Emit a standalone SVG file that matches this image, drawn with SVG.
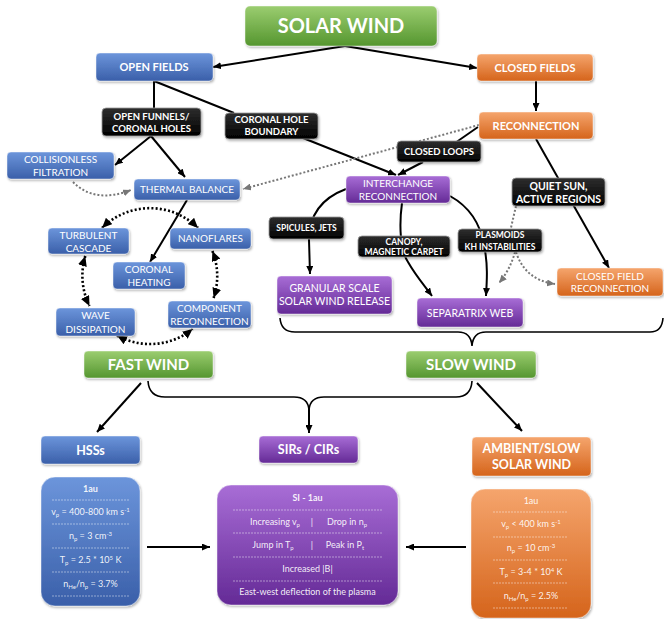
<svg xmlns="http://www.w3.org/2000/svg" width="664" height="619" viewBox="0 0 664 619">
<defs>
<linearGradient id="gGreen" x1="0" y1="0" x2="0" y2="1"><stop offset="0" stop-color="#9bcd70"/><stop offset="1" stop-color="#55962f"/></linearGradient>
<linearGradient id="gBlue" x1="0" y1="0" x2="0" y2="1"><stop offset="0" stop-color="#6c95db"/><stop offset="1" stop-color="#3a5fa9"/></linearGradient>
<linearGradient id="gOrange" x1="0" y1="0" x2="0" y2="1"><stop offset="0" stop-color="#f5a56d"/><stop offset="1" stop-color="#d5641b"/></linearGradient>
<linearGradient id="gPurple" x1="0" y1="0" x2="0" y2="1"><stop offset="0" stop-color="#a86dd6"/><stop offset="1" stop-color="#642a96"/></linearGradient>
<linearGradient id="gBlack" x1="0" y1="0" x2="0" y2="1"><stop offset="0" stop-color="#2e2e2e"/><stop offset="1" stop-color="#000"/></linearGradient>
<filter id="sh" x="-10%" y="-10%" width="130%" height="140%"><feDropShadow dx="1" dy="1.5" stdDeviation="1" flood-color="#000" flood-opacity="0.3"/></filter>
<marker id="ah" markerUnits="userSpaceOnUse" viewBox="0 0 8 7" refX="8" refY="3.5" markerWidth="8" markerHeight="7" orient="auto"><path d="M0,0 L8,3.5 L0,7 z" fill="#000"/></marker>
<marker id="ahg" markerUnits="userSpaceOnUse" viewBox="0 0 8 7" refX="8" refY="3.5" markerWidth="8" markerHeight="7" orient="auto"><path d="M0,0 L8,3.5 L0,7 z" fill="#777"/></marker>
<marker id="ahb" markerUnits="userSpaceOnUse" viewBox="0 0 10 9" refX="10" refY="4.5" markerWidth="10" markerHeight="9" orient="auto-start-reverse"><path d="M0,0 L10,4.5 L0,9 z" fill="#000"/></marker>
<style>
text{font-family:Lato,"Liberation Sans",sans-serif;fill:#fff;text-anchor:middle}
.b{font-weight:bold}
.n{stroke:rgba(255,255,255,0.55);stroke-width:0.8;filter:url(#sh)}
.blk{fill:url(#gBlack);stroke:#9a9a9a;stroke-width:0.8;filter:url(#sh)}
.green{fill:url(#gGreen)}.blue{fill:url(#gBlue)}.orange{fill:url(#gOrange)}.purple{fill:url(#gPurple)}
.c{fill:none;stroke:#000;stroke-width:2}
.cm{fill:none;stroke:#000;stroke-width:2;marker-end:url(#ah)}
.br{fill:none;stroke:#000;stroke-width:1.6}
.gd{fill:none;stroke:#777;stroke-width:2;stroke-dasharray:2 2;marker-end:url(#ahg)}
.gd0{fill:none;stroke:#777;stroke-width:2;stroke-dasharray:2 2}
.kd{fill:none;stroke:#000;stroke-width:2.6;stroke-dasharray:2 2.2;marker-start:url(#ahb);marker-end:url(#ahb)}
.t20{font-size:20px}.t15{font-size:15px}.t12{font-size:12.5px}.t11{font-size:11px}.t10{font-size:10px}.t95{font-size:9.5px}.t85{font-size:8.5px}.t105{font-size:10.5px}
.d{font-size:9px;fill:rgba(255,255,255,0.92)}
.dl{stroke:rgba(255,255,255,0.75);stroke-width:0.6;stroke-dasharray:2 1}
.s{font-size:6px}
</style>
</defs>
<rect width="664" height="619" fill="#fff"/>

<g id="connectors">
<path class="cm" d="M345,46 L213,67"/>
<path class="cm" d="M345,46 L477,68"/>
<path class="cm" d="M536,81 L536,111"/>
<path class="c" d="M154,81 L154,108"/>
<path class="c" d="M154,81 L234,113"/>
<path class="cm" d="M303,138 L396,175"/>
<path class="cm" d="M151,136 L115,165"/>
<path class="cm" d="M151,136 L185,177"/>
<path class="c" d="M478,127 L455,143"/>
<path class="cm" d="M423,162 L398,175"/>
<path class="cm" d="M536,139 L609,268"/>
<path class="cm" d="M187,200 L150,262"/>
<path class="cm" d="M346,189 C322,198 309,215 309,240 L310,274"/>
<path class="cm" d="M402,203 C399,225 400,250 408,262 C416,276 424,285 432,296"/>
<path class="cm" d="M450,196 C468,206 480,222 484,245 C488,264 487,280 486,296"/>
<path class="gd" d="M479,125 L243,189"/>
<path class="gd" d="M73,182 Q95,204 131,190"/>
<path class="gd0" d="M516,206 L510,232"/>
<path class="gd" d="M515,252 Q510,270 499,283"/>
<path class="gd" d="M516,252 Q525,280 555,284"/>
<path class="kd" d="M102,228 A68,68 0 0 1 198,228"/>
<path class="kd" d="M212.4,251 A68,68 0 0 1 213.6,298"/>
<path class="kd" d="M85.3,256 A68,68 0 0 0 89.5,306"/>
<path class="kd" d="M117,335.5 A68,68 0 0 0 192.6,329"/>
<path class="br" d="M280,318 Q281,332 295,332 L458,332 Q471,332 472,346 Q473,332 486,332 L650,332 Q662,332 663,318"/>
<path class="br" d="M148,381 Q149,397 165,397 L294,397 Q308,397 309,410 Q310,397 324,397 L456,397 Q471,397 472,381"/>
<path class="cm" d="M309,409 L309,433"/>
<path class="cm" d="M141,383 L97,432"/>
<path class="cm" d="M477,383 L522,431"/>
<path class="cm" d="M147,547 L210,547"/>
<path class="cm" d="M466,547 L406,547"/>
</g>

<g id="solar-wind"><rect class="n green" x="245" y="6" width="192" height="40" rx="5"/><text class="b t20" x="341" y="33">SOLAR WIND</text></g>
<g id="open-fields"><rect class="n blue" x="96" y="53" width="117" height="28" rx="4"/><text class="b t11" x="154" y="71">OPEN FIELDS</text></g>
<g id="closed-fields"><rect class="n orange" x="477" y="54" width="116" height="27" rx="4"/><text class="b t11" x="535" y="72">CLOSED FIELDS</text></g>
<g id="open-funnels"><rect class="blk" x="102" y="108" width="99" height="28" rx="4"/><text class="b t95" x="151.5" y="119.5">OPEN FUNNELS/</text><text class="b t95" x="151.5" y="132">CORONAL HOLES</text></g>
<g id="coronal-hole-boundary"><rect class="blk" x="225" y="113" width="93" height="26" rx="4"/><text class="b t95" x="271.5" y="122.5">CORONAL HOLE</text><text class="b t95" x="271.5" y="135">BOUNDARY</text></g>
<g id="reconnection"><rect class="n orange" x="479" y="112" width="114" height="27" rx="4"/><text class="b t11" x="536" y="129.5">RECONNECTION</text></g>
<g id="closed-loops"><rect class="blk" x="397" y="141" width="84" height="21" rx="4"/><text class="b t95" x="439" y="155">CLOSED LOOPS</text></g>
<g id="collisionless-filtration"><rect class="n blue" x="7" y="152" width="107" height="27" rx="4"/><text class="t10" x="60.5" y="162.5">COLLISIONLESS</text><text class="t10" x="60.5" y="175.5">FILTRATION</text></g>
<g id="thermal-balance"><rect class="n blue" x="134" y="179" width="106" height="21" rx="4"/><text class="t10" x="187" y="193">THERMAL BALANCE</text></g>
<g id="interchange-reconnection"><rect class="n purple" x="346" y="176" width="104" height="27" rx="4"/><text class="t10" x="398" y="186.5">INTERCHANGE</text><text class="t10" x="398" y="199.5">RECONNECTION</text></g>
<g id="quiet-sun"><rect class="blk" x="512" y="178" width="93" height="28" rx="4"/><text class="b t105" x="558.5" y="189.5">QUIET SUN,</text><text class="b t105" x="558.5" y="203">ACTIVE REGIONS</text></g>
<g id="turbulent-cascade"><rect class="n blue" x="48" y="228" width="81" height="26" rx="4"/><text class="t10" x="88.5" y="238.5">TURBULENT</text><text class="t10" x="88.5" y="251.5">CASCADE</text></g>
<g id="nanoflares"><rect class="n blue" x="170" y="228" width="81" height="21" rx="4"/><text class="t10" x="210.5" y="242">NANOFLARES</text></g>
<g id="coronal-heating"><rect class="n blue" x="113" y="262" width="72" height="27" rx="4"/><text class="t10" x="149" y="272.5">CORONAL</text><text class="t10" x="149" y="286">HEATING</text></g>
<g id="spicules-jets"><rect class="blk" x="269" y="217" width="75" height="22" rx="4"/><text class="b t85" x="306.5" y="231">SPICULES, JETS</text></g>
<g id="canopy"><rect class="blk" x="358" y="236" width="92" height="21" rx="4"/><text class="b t85" x="404" y="244.5">CANOPY,</text><text class="b t85" x="404" y="254.5">MAGNETIC CARPET</text></g>
<g id="plasmoids"><rect class="blk" x="458" y="229" width="84" height="23" rx="4"/><text class="b t85" x="500" y="238">PLASMOIDS</text><text class="b t85" x="500" y="249.5">KH INSTABILITIES</text></g>
<g id="granular-scale"><rect class="n purple" x="277" y="276" width="115" height="38" rx="4"/><text class="t105" x="334.5" y="292">GRANULAR SCALE</text><text class="t105" x="334.5" y="305">SOLAR WIND RELEASE</text></g>
<g id="separatrix-web"><rect class="n purple" x="417" y="298" width="106" height="29" rx="4"/><text class="t105" x="470" y="316.5">SEPARATRIX WEB</text></g>
<g id="closed-field-reconnection"><rect class="n orange" x="557" y="268" width="106" height="28" rx="4"/><text class="t10" x="610" y="279.5">CLOSED FIELD</text><text class="t10" x="610" y="292">RECONNECTION</text></g>
<g id="wave-dissipation"><rect class="n blue" x="56" y="308" width="79" height="28" rx="4"/><text class="t10" x="95.5" y="319">WAVE</text><text class="t10" x="95.5" y="332.5">DISSIPATION</text></g>
<g id="component-reconnection"><rect class="n blue" x="168" y="301" width="83" height="27" rx="4"/><text class="t10" x="209.5" y="311.5">COMPONENT</text><text class="t10" x="209.5" y="325">RECONNECTION</text></g>
<g id="fast-wind"><rect class="n green" x="84" y="351" width="129" height="27" rx="4"/><text class="b t15" x="148.5" y="369.5">FAST WIND</text></g>
<g id="slow-wind"><rect class="n green" x="406" y="351" width="130" height="27" rx="4"/><text class="b t15" x="471" y="369.5">SLOW WIND</text></g>
<g id="hsss"><rect class="n blue" x="41" y="436" width="99" height="28" rx="4"/><text class="b t12" x="90.5" y="454.5">HSSs</text></g>
<g id="sirs-cirs"><rect class="n purple" x="259" y="436" width="99" height="27" rx="4"/><text class="b t12" x="308.5" y="454">SIRs / CIRs</text></g>
<g id="ambient-slow"><rect class="n orange" x="472" y="437" width="119" height="39" rx="4"/><text class="b t12" x="531.5" y="452.5">AMBIENT/SLOW</text><text class="b t12" x="531.5" y="469">SOLAR WIND</text></g>

<g id="hss-data"><rect class="n blue" x="41" y="477" width="99" height="129" rx="14"/>
<text class="d b" x="90.5" y="492">1au</text>
<line class="dl" x1="52" y1="500" x2="129" y2="500"/>
<text class="d" x="90.5" y="515">v<tspan class="s" baseline-shift="-1.5">p</tspan> = 400-800 km s<tspan class="s" baseline-shift="3">-1</tspan></text>
<line class="dl" x1="52" y1="524" x2="129" y2="524"/>
<text class="d" x="90.5" y="539">n<tspan class="s" baseline-shift="-1.5">p</tspan> = 3 cm<tspan class="s" baseline-shift="3">-3</tspan></text>
<line class="dl" x1="52" y1="548" x2="129" y2="548"/>
<text class="d" x="90.5" y="563">T<tspan class="s" baseline-shift="-1.5">p</tspan> = 2.5 * 10<tspan class="s" baseline-shift="3">5</tspan> K</text>
<line class="dl" x1="52" y1="572" x2="129" y2="572"/>
<text class="d" x="90.5" y="587">n<tspan class="s" baseline-shift="-1.5">He</tspan>/n<tspan class="s" baseline-shift="-1.5">p</tspan> = 3.7%</text>
<line class="dl" x1="52" y1="596" x2="129" y2="596"/>
</g>

<g id="si-data"><rect class="n purple" x="217" y="485" width="181" height="120" rx="14"/>
<text class="d b" x="307.5" y="501">SI - 1au</text>
<line class="dl" x1="233" y1="510" x2="382" y2="510"/>
<text class="d" x="275" y="525">Increasing v<tspan class="s" baseline-shift="-1.5">p</tspan></text>
<text class="d" x="312" y="525">|</text>
<text class="d" x="347" y="525">Drop in n<tspan class="s" baseline-shift="-1.5">p</tspan></text>
<line class="dl" x1="233" y1="533" x2="382" y2="533"/>
<text class="d" x="273" y="548">Jump in T<tspan class="s" baseline-shift="-1.5">p</tspan></text>
<text class="d" x="312" y="548">|</text>
<text class="d" x="345" y="548">Peak in P<tspan class="s" baseline-shift="-1.5">t</tspan></text>
<line class="dl" x1="233" y1="557" x2="382" y2="557"/>
<text class="d" x="307.5" y="572">Increased |B|</text>
<line class="dl" x1="233" y1="581" x2="382" y2="581"/>
<text class="d" x="307.5" y="595">East-west deflection of the plasma</text>
</g>

<g id="ambient-data"><rect class="n orange" x="471" y="489" width="120" height="129" rx="14"/>
<text class="d" x="531" y="504">1au</text>
<line class="dl" x1="493" y1="512" x2="568" y2="512"/>
<text class="d" x="531" y="527">v<tspan class="s" baseline-shift="-1.5">p</tspan> &lt; 400 km s<tspan class="s" baseline-shift="3">-1</tspan></text>
<line class="dl" x1="493" y1="537" x2="568" y2="537"/>
<text class="d" x="531" y="551">n<tspan class="s" baseline-shift="-1.5">p</tspan> = 10 cm<tspan class="s" baseline-shift="3">-3</tspan></text>
<line class="dl" x1="493" y1="560" x2="568" y2="560"/>
<text class="d" x="531" y="575">T<tspan class="s" baseline-shift="-1.5">p</tspan> = 3-4 * 10<tspan class="s" baseline-shift="3">4</tspan> K</text>
<line class="dl" x1="493" y1="583" x2="568" y2="583"/>
<text class="d" x="531" y="599">n<tspan class="s" baseline-shift="-1.5">He</tspan>/n<tspan class="s" baseline-shift="-1.5">p</tspan> = 2.5%</text>
<line class="dl" x1="493" y1="608" x2="568" y2="608"/>
</g>
</svg>
